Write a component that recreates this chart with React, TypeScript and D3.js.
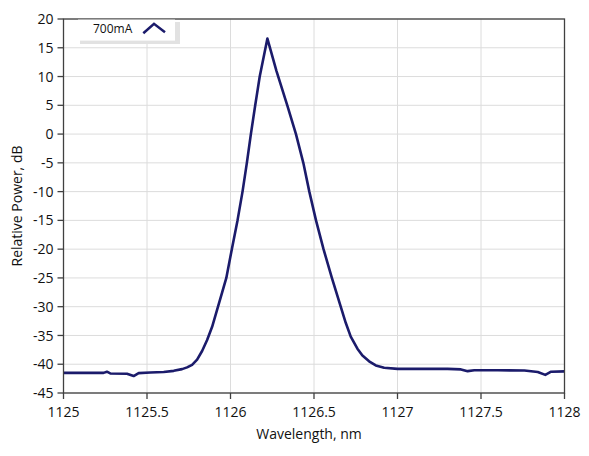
import * as d3 from "d3";

// spectrum
const wavelength = [
  1125.0, 1125.12, 1125.24, 1125.26, 1125.28, 1125.38, 1125.42, 1125.45, 1125.52, 1125.6,
  1125.66, 1125.71, 1125.74, 1125.77, 1125.8, 1125.83, 1125.86, 1125.89, 1125.92, 1125.95,
  1125.975, 1126.008, 1126.042, 1126.072, 1126.098, 1126.122, 1126.148, 1126.175, 1126.221, 1126.275,
  1126.34, 1126.392, 1126.436, 1126.472, 1126.512, 1126.557, 1126.607, 1126.66, 1126.69, 1126.72,
  1126.76, 1126.79, 1126.83, 1126.87, 1126.92, 1127.0, 1127.3, 1127.38, 1127.42, 1127.46,
  1127.6, 1127.76, 1127.84, 1127.885, 1127.92, 1128.0,
];
const power = [
  -41.5, -41.5, -41.5, -41.3, -41.6, -41.65, -42.05, -41.55, -41.45, -41.35,
  -41.15, -40.85, -40.55, -40.1, -39.2, -37.7, -35.8, -33.5, -30.5, -27.5,
  -25.0, -20.0, -15.0, -10.0, -5.0, 0.0, 5.0, 10.0, 16.6, 11.0,
  5.0, 0.0, -5.0, -10.0, -15.0, -20.0, -25.0, -30.0, -32.8, -35.2,
  -37.3, -38.5, -39.5, -40.2, -40.6, -40.8, -40.8, -40.9, -41.2, -41.05,
  -41.05, -41.1, -41.35, -41.85, -41.3, -41.25,
];
const xTicks = [1125, 1125.5, 1126, 1126.5, 1127, 1127.5, 1128];
const yTicks = [20, 15, 10, 5, 0, -5, -10, -15, -20, -25, -30, -35, -40, -45];
const seriesName = "700mA";

const W = 589,
  H = 456;
const margin = { left: 63.5, right: 24.5, top: 19, bottom: 63 };
const font = "'Segoe UI', 'Open Sans', 'Noto Sans', sans-serif";
const lineColor = "#1b1b6b";

export default function App() {
  const x = d3.scaleLinear().domain([1125, 1128]).range([margin.left, W - margin.right]);
  const y = d3.scaleLinear().domain([-45, 20]).range([H - margin.bottom, margin.top]);

  const pts = wavelength.map((w, i) => [w, power[i]] as [number, number]);
  const path = d3
    .line<[number, number]>()
    .x((d) => x(d[0]))
    .y((d) => y(d[1]))(pts);

  const x0 = x(1125),
    x1 = x(1128),
    y0 = y(-45),
    y1 = y(20);

  return (
    <svg
      width={W}
      height={H}
      style={{ position: "fixed", left: 0, top: 0, background: "#fff" }}
      fontFamily={font}
    >
      <rect x={0} y={0} width={W} height={H} fill="#fff" />
      {/* grid */}
      {xTicks.map((t) => (
        <line key={"gx" + t} x1={x(t)} x2={x(t)} y1={y1} y2={y0} stroke="#dcdcdc" strokeWidth={1} />
      ))}
      {yTicks.map((t) => (
        <line key={"gy" + t} x1={x0} x2={x1} y1={y(t)} y2={y(t)} stroke="#dcdcdc" strokeWidth={1} />
      ))}

      {/* curve */}
      <path d={path ?? ""} fill="none" stroke={lineColor} strokeWidth={2.6} strokeLinejoin="round" />

      {/* frame */}
      <rect x={x0} y={y1} width={x1 - x0} height={y0 - y1} fill="none" stroke="#404040" strokeWidth={1.3} />

      {/* y axis */}
      {yTicks.map((t) => (
        <g key={"ty" + t}>
          <line x1={x0 - 6} x2={x0} y1={y(t)} y2={y(t)} stroke="#404040" strokeWidth={1.3} />
          <text x={x0 - 10} y={y(t)} dy="0.36em" textAnchor="end" fontSize={14} fill="#111">
            {t}
          </text>
        </g>
      ))}
      {/* x axis */}
      {xTicks.map((t) => (
        <g key={"tx" + t}>
          <line x1={x(t)} x2={x(t)} y1={y0} y2={y0 + 6} stroke="#404040" strokeWidth={1.3} />
          <text x={x(t)} y={y0 + 24} textAnchor="middle" fontSize={14} fill="#111">
            {t}
          </text>
        </g>
      ))}

      <text x={309} y={439} textAnchor="middle" fontSize={14} fill="#111">
        Wavelength, nm
      </text>
      <text
        transform={`translate(22,${(y0 + y1) / 2}) rotate(-90)`}
        textAnchor="middle"
        fontSize={14}
        fill="#111"
      >
        Relative Power, dB
      </text>

      {/* legend */}
      <g>
        <rect x={80} y={22} width={100} height={22} fill="#e2e2e2" />
        <rect x={78} y={19.6} width={97} height={21} fill="#fff" />
        <text x={93} y={32.5} fontSize={12} fill="#111">
          {seriesName}
        </text>
        <path d="M143.3,33.3L154,23.8L165,32.3" fill="none" stroke={lineColor} strokeWidth={2.5} />
      </g>
    </svg>
  );
}
